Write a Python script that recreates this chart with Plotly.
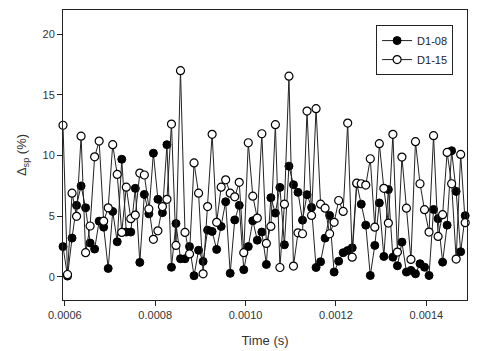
import plotly.graph_objects as go

t0 = 0.000596
dt = 0.00001

d1_08 = [2.5, 0.07, 3.2, 5.9, 7.5, 5.7, 2.8, 2.3, 4.6, 4.1,
         0.7, 5.4, 2.9, 9.7, 3.7, 3.7, 7.3, 1.2, 6.8, 5.2,
         10.2, 6.4, 5.3, 10.9, 0.8, 4.4, 1.5, 1.5, 2.5, 0.1,
         2.2, 1.28, 3.86, 3.75, 2.27, 4.16, 6.2, 0.3, 4.7, 5.9,
         0.6, 2.5, 4.63, 3.03, 3.7, 1.03, 6.53, 5.26, 7.38, 2.65,
         9.13, 7.6, 6.97, 4.68, 6.78, 5.73, 0.78, 1.25, 3.2, 5.07,
         0.4, 1.3, 2.0, 2.18, 2.4, 7.7, 6.0, 4.27, 0.12, 2.6,
         6.1, 1.69, 7.2, 1.63, 0.92, 2.87, 0.4, 0.54, 0.26, 1.09,
         0.8, 0.12, 5.56, 4.8, 1.22, 4.27, 10.4, 7.05, 2.08, 5.05]

d1_15 = [12.5, 0.2, 6.9, 5.0, 11.6, 2.0, 4.2, 9.9, 11.2, 4.6,
         5.7, 10.9, 8.45, 3.67, 7.4, 4.8, 5.1, 8.56, 8.4, 5.6,
         3.1, 3.8, 5.8, 6.4, 12.6, 2.6, 17.0, 3.67, 1.9, 9.4,
         6.9, 0.26, 5.8, 11.75, 4.5, 7.4, 8.0, 6.9, 6.6, 7.8,
         2.0, 11.06, 6.66, 4.85, 11.8, 2.76, 4.16, 12.55, 0.78, 6.0,
         16.55, 0.9, 3.64, 3.56, 13.67, 5.07, 13.87, 6.0, 5.67, 3.56,
         4.5, 6.3, 5.4, 12.68, 1.63, 7.73, 7.68, 7.57, 9.74, 4.1,
         10.98, 7.3, 4.44, 11.75, 2.05, 9.88, 5.67, 1.44, 11.15, 7.68,
         5.54, 3.7, 11.64, 3.34, 5.13, 10.26, 7.68, 1.47, 10.1, 4.47]

time = [t0 + i * dt for i in range(len(d1_08))]

x_ticks = [0.0006, 0.0008, 0.0010, 0.0012, 0.0014]
x_tick_labels = ["0.0006", "0.0008", "0.0010", "0.0012", "0.0014"]
y_ticks = [0, 5, 10, 15, 20]

fig = go.Figure()
fig.add_trace(go.Scatter(
    x=time, y=d1_08, name="D1-08", mode="lines+markers",
    line=dict(color="#222222", width=1),
    marker=dict(symbol="circle", size=8, color="black",
                line=dict(color="black", width=1)),
    cliponaxis=False,
))
fig.add_trace(go.Scatter(
    x=time, y=d1_15, name="D1-15", mode="lines+markers",
    line=dict(color="#222222", width=1),
    marker=dict(symbol="circle", size=8, color="white",
                line=dict(color="black", width=1.2)),
    cliponaxis=False,
))

# page body has an 8px default margin; figure is sized to compensate
fig.update_layout(
    width=477, height=343,
    margin=dict(l=55, r=18, t=2, b=51),
    paper_bgcolor="white", plot_bgcolor="white",
    font=dict(family="Liberation Sans, Arial, sans-serif", size=11, color="#333333"),
    showlegend=True,
    legend=dict(
        x=0.775, y=0.948, xanchor="left", yanchor="top",
        bordercolor="#222222", borderwidth=1, bgcolor="white",
        font=dict(size=11, color="#222222"),
        tracegroupgap=0, itemwidth=30,
    ),
    xaxis=dict(
        range=[0.000596, 0.00149],
        tickvals=x_ticks, ticktext=x_tick_labels,
        ticks="outside", ticklen=5, tickcolor="#222222",
        showline=True, linecolor="#222222", linewidth=1, mirror=True,
        showgrid=False, zeroline=False,
        title=dict(text="Time (s)", font=dict(size=13, color="#333333"), standoff=15),
    ),
    yaxis=dict(
        range=[-1.9, 22],
        tickvals=y_ticks,
        ticks="outside", ticklen=5, tickcolor="#222222",
        showline=True, linecolor="#222222", linewidth=1, mirror=True,
        showgrid=False, zeroline=False,
        title=dict(text="Δ<sub>sp</sub> (%)", font=dict(size=13, color="#333333"), standoff=12),
    ),
)

fig.write_html("out.html")
